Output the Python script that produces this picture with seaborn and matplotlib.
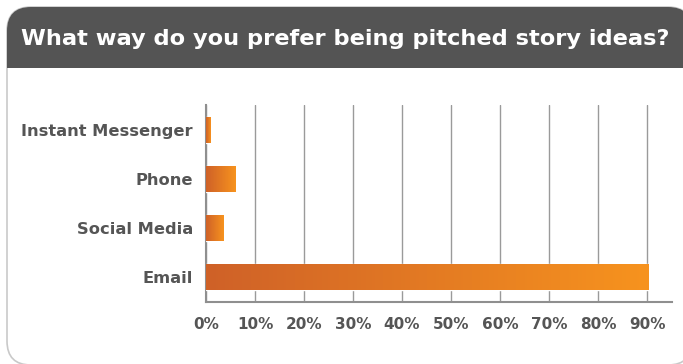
import numpy as np
import pandas as pd
import matplotlib
matplotlib.use("Agg")
import matplotlib.pyplot as plt
from matplotlib.patches import FancyBboxPatch, Rectangle
from matplotlib.colors import LinearSegmentedColormap
import seaborn as sns

# Survey answers (share of respondents, %)
channels = ["Instant Messenger", "Phone", "Social Media", "Email"]
shares = [0.9, 6.1, 3.5, 90.4]
tick_values = [0, 10, 20, 30, 40, 50, 60, 70, 80, 90]
tick_labels = ["0%", "10%", "20%", "30%", "40%", "50%", "60%", "70%", "80%", "90%"]
title = "What way do you prefer being pitched story ideas?"

sns.set_theme(style="white")
plt.rcParams["font.family"] = ["DejaVu Sans"]

W, H = 683, 364
fig = plt.figure(figsize=(W / 100, H / 100), dpi=100)

# Card background in pixel coordinates
bg = fig.add_axes([0, 0, 1, 1])
bg.set_xlim(0, W)
bg.set_ylim(H, 0)
bg.axis("off")
card = FancyBboxPatch((7, 7), 685, 358, boxstyle="round,pad=0,rounding_size=24",
                      facecolor="white", edgecolor="#c9c9c9", linewidth=1.2)
bg.add_patch(card)
header = Rectangle((0, 0), W + 20, 68, facecolor="#545454", edgecolor="none")
bg.add_patch(header)
header.set_clip_path(card)
bg.text(345, 39, title, color="white", fontsize=16.2, fontweight="bold",
        ha="center", va="center")

# Bar chart area
left, right, top, bottom = 206, 672, 105, 302
ax = fig.add_axes([left / W, 1 - bottom / H, (right - left) / W, (bottom - top) / H])
df = pd.DataFrame({"channel": channels, "share": shares})
sns.barplot(data=df, x="share", y="channel", orient="h", width=0.53,
            color="#e07a25", ax=ax, zorder=3)
ax.set_xlim(0, 95.1)
ax.set_ylim(3.5, -0.5)
ax.set_xticks(tick_values)
ax.set_xticklabels(tick_labels)
ax.set_xlabel("")
ax.set_ylabel("")
ax.grid(axis="x", color="#9a9a9a", linewidth=1.0, zorder=0)
ax.grid(axis="y", visible=False)
for side in ["top", "right"]:
    ax.spines[side].set_visible(False)
for side in ["left", "bottom"]:
    ax.spines[side].set_color("#8f8f8f")
    ax.spines[side].set_linewidth(1.5)
ax.tick_params(axis="both", length=0, colors="#555555")
ax.tick_params(axis="x", pad=10.5, labelsize=11)
ax.tick_params(axis="y", pad=9.5, labelsize=11.7)
for lab in ax.get_xticklabels() + ax.get_yticklabels():
    lab.set_fontweight("bold")
    lab.set_color("#555555")

# Horizontal orange gradient on each bar
cmap = LinearSegmentedColormap.from_list("orange", ["#cf6128", "#f7931e"])
grad = np.linspace(0, 1, 256).reshape(1, -1)
for patch in ax.patches:
    x0, y0 = patch.get_x(), patch.get_y()
    w, h = patch.get_width(), patch.get_height()
    im = ax.imshow(grad, cmap=cmap, aspect="auto", extent=(x0, x0 + w, y0 + h, y0),
                   zorder=4, interpolation="bicubic")
    im.set_clip_path(patch)
    patch.set_facecolor("none")
ax.set_xlim(0, 95.1)
ax.set_ylim(3.5, -0.5)

fig.savefig("out.png", dpi=100)
